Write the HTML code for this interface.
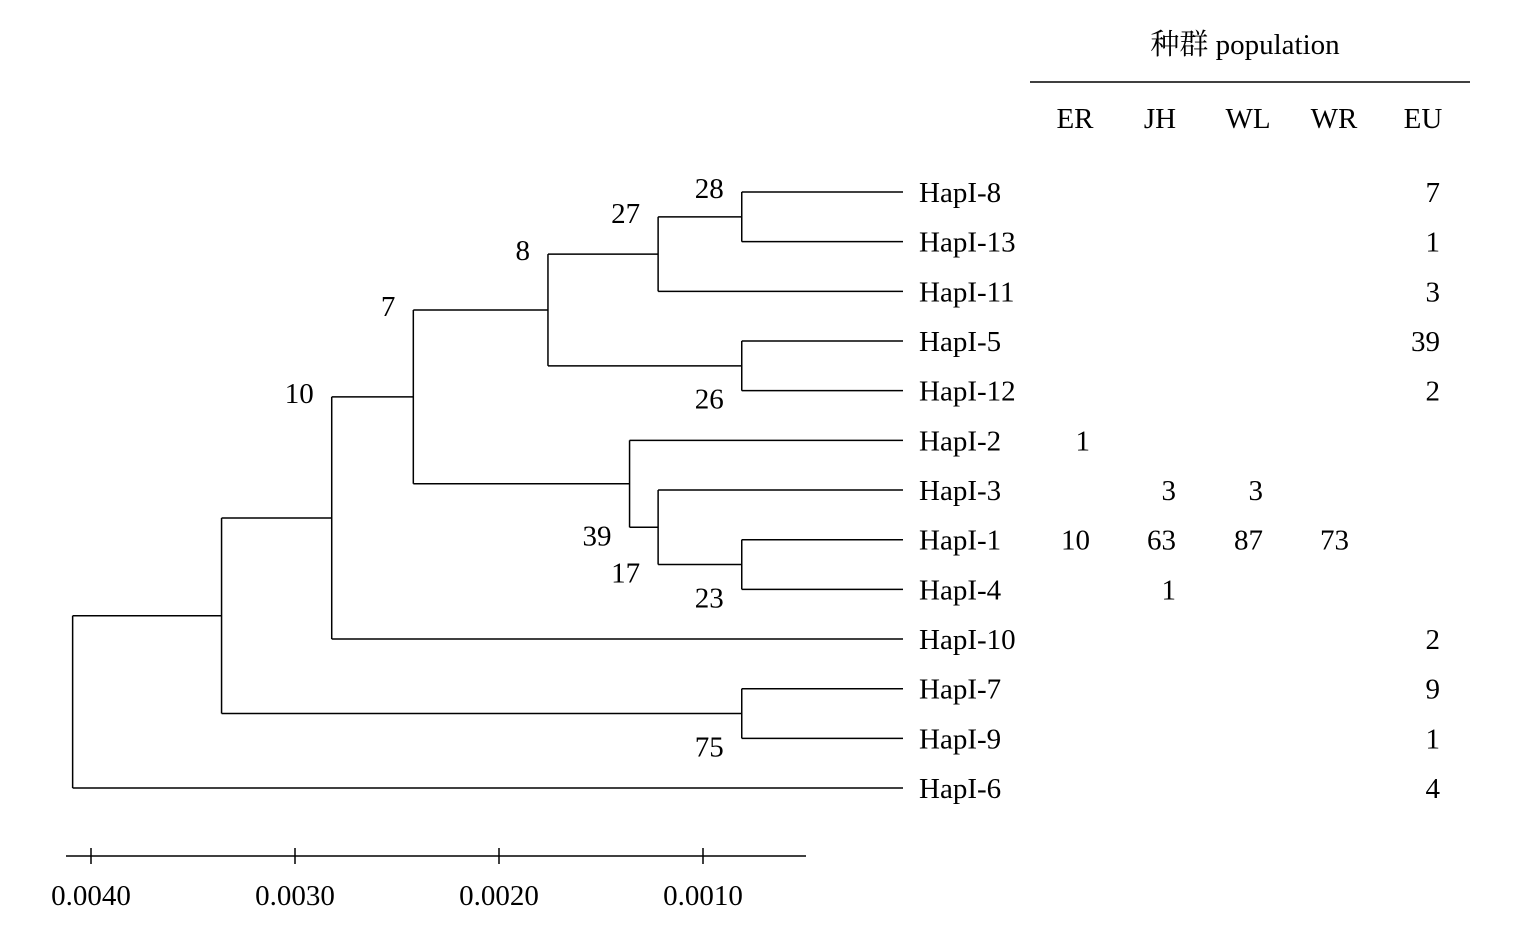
<!DOCTYPE html>
<html><head><meta charset="utf-8"><style>
html,body{margin:0;padding:0;background:#fff;}
svg{display:block;font-family:"Liberation Serif","Noto Serif CJK SC",serif;}
text{font-size:29px;fill:#000;}
</style></head><body>
<svg id="chart" width="1524" height="935" viewBox="0 0 1524 935"></svg>
<script>
const leafNames = ["HapI-8","HapI-13","HapI-11","HapI-5","HapI-12","HapI-2","HapI-3","HapI-1","HapI-4","HapI-10","HapI-7","HapI-9","HapI-6"];
const popColumns = ["ER","JH","WL","WR","EU"];
const popCounts = [
 [null,null,null,null,7],[null,null,null,null,1],[null,null,null,null,3],
 [null,null,null,null,39],[null,null,null,null,2],[1,null,null,null,null],
 [null,3,3,null,null],[10,63,87,73,null],[null,1,null,null,null],
 [null,null,null,null,2],[null,null,null,null,9],[null,null,null,null,1],
 [null,null,null,null,4]];
// internal nodes: [name, bootstrap label, height, child A, child B] (children: leaf index number or node name)
const nodeNames = ["n28","n27","n26","n8","n23","n17","n39","n7","n10","n75","n0","root"];
const nodeLabels = ["28","27","26","8","23","17","39","7","10","75","",""];
const nodeHeights = [0.00081,0.00122,0.00081,0.00176,0.00081,0.00122,0.00136,0.00242,0.00282,0.00081,0.00336,0.00409];
const nodeChildren = [[0,1],["n28",2],[3,4],["n27","n26"],[7,8],[6,"n23"],[5,"n17"],["n8","n39"],["n7",9],[10,11],["n10","n75"],["n0",12]];
// label placement: above (-1) or below (+1) the node's branch
const nodeLabelSide = [-1,-1,1,-1,1,1,1,-1,-1,1,0,0];
const axisTicks = [0.0040,0.0030,0.0020,0.0010];
const axisTickLabels = ["0.0040","0.0030","0.0020","0.0010"];

const svg = document.getElementById('chart');
const NS = "http://www.w3.org/2000/svg";
const xScale = h => 907 - h/0.001*204;
const yLeaf = i => 192 + i*49.67;
function mk(tag, attrs, parent){const e=document.createElementNS(NS,tag);for(const k in attrs)e.setAttribute(k,attrs[k]);(parent||svg).appendChild(e);return e;}
function line(x1,y1,x2,y2,name){const l=mk('line',{x1,y1,x2,y2,stroke:'#000','stroke-width':1.5});


return l;}
function txt(s,x,y,anchor,name){const t=mk('text',{x,y,'text-anchor':anchor||'start'});t.textContent=s;


return t;}

const pos = {};
function getPos(c){
  if(typeof c==='number') return {x:xScale(0)-4,y:yLeaf(c)};
  if(pos[c]) return pos[c];
  const i=nodeNames.indexOf(c);
  const a=getPos(nodeChildren[i][0]), b=getPos(nodeChildren[i][1]);
  const p={x:xScale(nodeHeights[i]),y:(a.y+b.y)/2};
  pos[c]=p; return p;
}
nodeNames.forEach((n,i)=>{
  const p=getPos(n);
  const a=getPos(nodeChildren[i][0]), b=getPos(nodeChildren[i][1]);
  line(p.x,a.y,p.x,b.y,'branch-vertical-'+n);
  [a,b].forEach((c,k)=>line(p.x,c.y,c.x,c.y,'branch-'+n+'-'+k));
  if(nodeLabels[i]){
    const yy = nodeLabelSide[i]<0 ? Math.min(a.y,b.y)-0 : Math.max(a.y,b.y);
    const ty = nodeLabelSide[i]<0 ? p.y - ((Math.abs(a.y-b.y))/2) + 16 : p.y + Math.abs(a.y-b.y)/2 + 18;
    txt(nodeLabels[i], p.x-18, nodeLabelSide[i]<0 ? Math.min(a.y,b.y)+ -1*0 + 16 - 10 : Math.max(a.y,b.y)+18, 'end','bootstrap-'+nodeLabels[i]);
  }
});
// leaf labels
leafNames.forEach((n,i)=>txt(n,919,yLeaf(i)+10,'start','leaf-label-'+n));
// table
txt('种群 population',1245,54,'middle','population-header');
line(1030,82,1470,82,'header-rule');
const colCenters=[1075,1160,1248,1334,1423];
const colRights=[1090,1176,1263,1349,1440];
popColumns.forEach((c,j)=>txt(c,colCenters[j],128,'middle','column-header-'+c));
popCounts.forEach((row,i)=>row.forEach((v,j)=>{if(v!==null)txt(String(v),colRights[j],yLeaf(i)+10,'end','count-'+leafNames[i]+'-'+popColumns[j]);}));
// axis
line(66,856,806,856,'scale-axis-line');
axisTicks.forEach((t,k)=>{const x=xScale(t);line(x,848,x,864,'scale-tick-'+k);txt(axisTickLabels[k],x,905,'middle','scale-tick-label-'+k);});
</script>
</body></html>
